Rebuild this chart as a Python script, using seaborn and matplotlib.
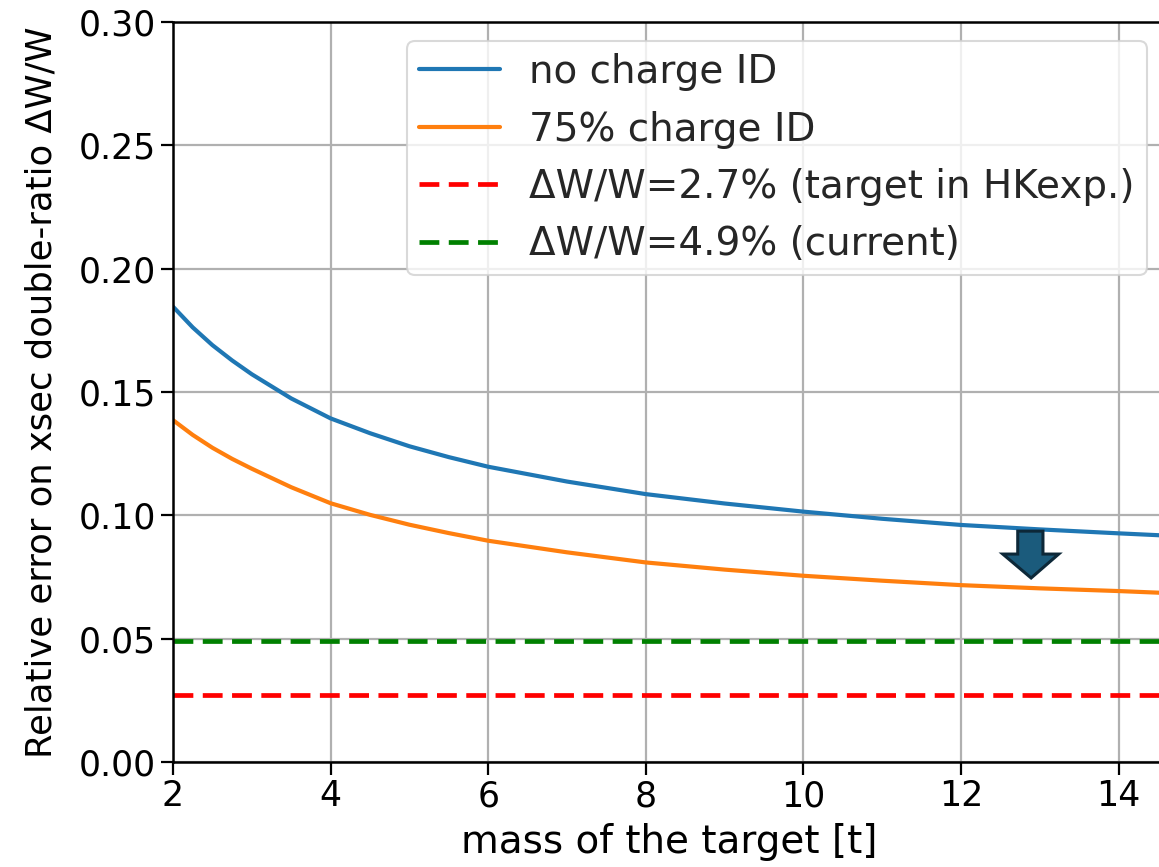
import numpy as np
import pandas as pd
import matplotlib
matplotlib.use("Agg")
import matplotlib.pyplot as plt
from matplotlib.patches import Polygon
import seaborn as sns

# target mass [t]
mass = [2.0, 2.25, 2.5, 2.75, 3.0, 3.5, 4.0, 4.5, 5.0, 5.5, 6.0, 7.0, 8.0, 9.0, 10.0,
        11.0, 12.0, 13.0, 14.0, 15.0]
# relative error on the cross-section double ratio
err_no_charge_id = [0.1846, 0.1762, 0.1690, 0.1628, 0.1572, 0.1474, 0.1393, 0.1333, 0.1280,
                    0.1236, 0.1197, 0.1137, 0.1086, 0.1048, 0.1015, 0.0986, 0.0961, 0.0943,
                    0.0927, 0.0912]
err_charge_id_75 = [0.1386, 0.1326, 0.1274, 0.1229, 0.1189, 0.1114, 0.1049, 0.1002, 0.0962,
                    0.0928, 0.0897, 0.0850, 0.0809, 0.0780, 0.0755, 0.0735, 0.0717, 0.0704,
                    0.0693, 0.0680]
series_labels = ["no charge ID", "75% charge ID"]
target_hk = 0.027
current = 0.049
target_label = "ΔW/W=2.7% (target in HKexp.)"
current_label = "ΔW/W=4.9% (current)"
x_label = "mass of the target [t]"
y_label = "Relative error on xsec double-ratio ΔW/W"
x_ticks = [2, 4, 6, 8, 10, 12, 14]
y_ticks = [0.00, 0.05, 0.10, 0.15, 0.20, 0.25, 0.30]

df = pd.DataFrame({
    "mass": mass * 2,
    "err": err_no_charge_id + err_charge_id_75,
    "scheme": [series_labels[0]] * len(mass) + [series_labels[1]] * len(mass),
})

sns.set_style("ticks")
plt.rcParams["font.family"] = ["DejaVu Sans"]
FS_TICK = 25
FS_XLABEL = 28
FS_YLABEL = 25.5
FS_LEG = 28

fig = plt.figure(figsize=(11.59, 8.67), dpi=100)
W, H = 1159, 867
ax = fig.add_axes([173 / W, 105 / H, (1166 - 173) / W, 740 / H])

sns.lineplot(data=df, x="mass", y="err", hue="scheme", hue_order=series_labels,
             palette=["#1f77b4", "#ff7f0e"], linewidth=3.0, ax=ax, legend=False)

dash = (0, (4.2, 2.0))
ax.axhline(target_hk, color="red", linestyle=dash, linewidth=3.4)
ax.axhline(current, color="green", linestyle=dash, linewidth=3.4)

ax.set_xlim(2, 2 + 993 / 78.8)
ax.set_ylim(0, 0.30)
ax.set_xticks(x_ticks)
ax.set_yticks(y_ticks)
ax.set_yticklabels([f"{v:.2f}" for v in y_ticks])
ax.tick_params(labelsize=FS_TICK, length=9, width=1.6, color="black", labelcolor="black")
ax.set_xlabel(x_label, fontsize=FS_XLABEL, color="black", labelpad=7)
ax.set_ylabel(y_label, fontsize=FS_YLABEL, color="black", labelpad=14)
ax.grid(True, color="#b0b0b0", linewidth=1.6)
ax.set_axisbelow(True)
for s in ax.spines.values():
    s.set_color("black")
    s.set_linewidth(1.8)

handles = [
    plt.Line2D([], [], color="#1f77b4", lw=3.0),
    plt.Line2D([], [], color="#ff7f0e", lw=3.0),
    plt.Line2D([], [], color="red", lw=3.4, linestyle=dash),
    plt.Line2D([], [], color="green", lw=3.4, linestyle=dash),
]
leg = ax.legend(handles, series_labels + [target_label, current_label],
                loc="upper right", fontsize=FS_LEG, handlelength=2.1, handletextpad=0.75,
                labelspacing=0.5, borderaxespad=0.5, borderpad=0.3, frameon=True, fancybox=True)
leg.get_frame().set_edgecolor("#d0d0d0")
leg.get_frame().set_linewidth(1.5)
leg.get_frame().set_alpha(0.8)

# downward arrow marker near the curves
arrow = Polygon([(12.72, 0.0936), (13.04, 0.0936), (13.04, 0.0843), (13.24, 0.0843),
                 (12.89, 0.0746), (12.53, 0.0843), (12.72, 0.0843)],
                closed=True, facecolor="#1b5b7c", edgecolor="#0d2838", linewidth=2.2, zorder=5)
ax.add_patch(arrow)

fig.savefig("out.png", dpi=100)
